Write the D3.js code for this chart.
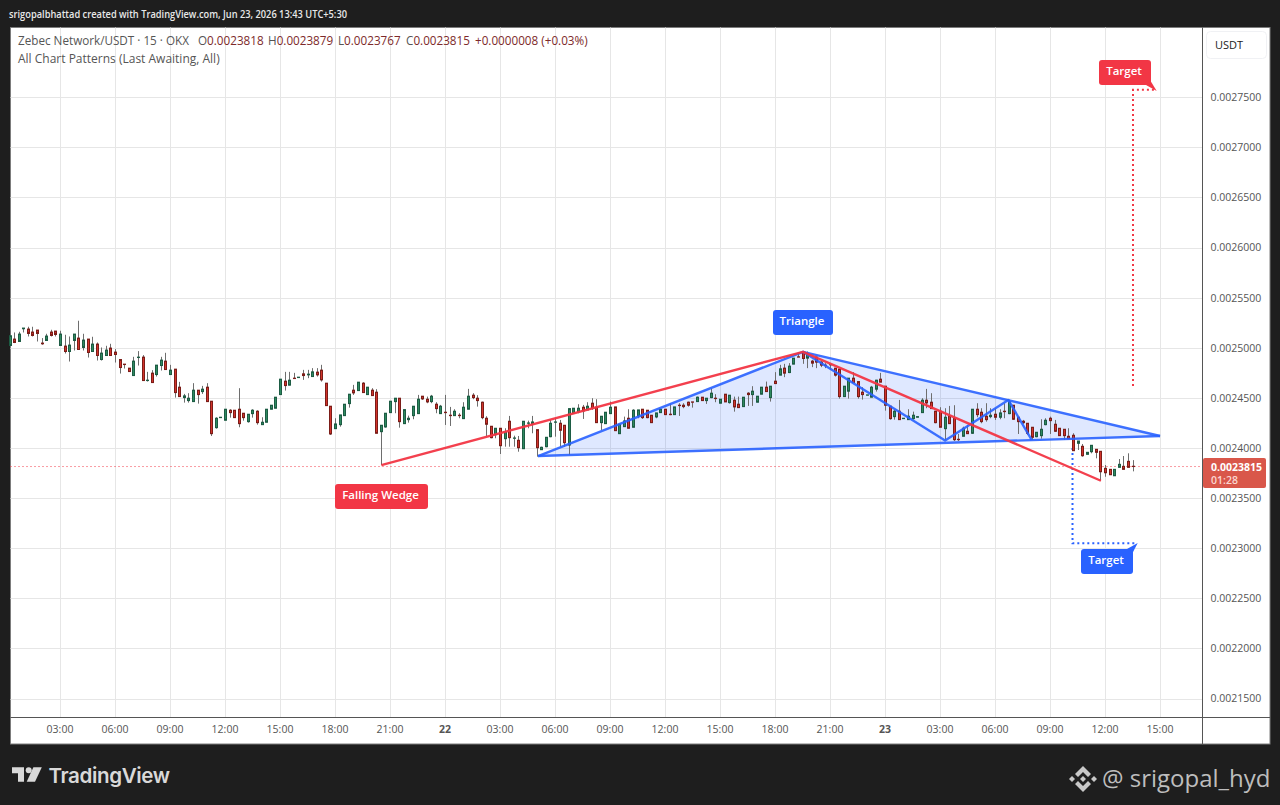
<!DOCTYPE html>
<html>
<head>
<meta charset="utf-8">
<script src="https://cdn.jsdelivr.net/npm/d3@7"></script>
<style>
  html, body { margin: 0; padding: 0; background: #1e1e1e; overflow: hidden; }
  svg { display: block; font-family: "Open Sans", sans-serif; }
</style>
</head>
<body>
<svg id="chart" width="1280" height="805"></svg>
<script>
// prices are in units of 0.0000001, one entry per 15 minute bar
var opens = [
  25023,25087,25063,25190,25187,25157,25177,25047,25073,25157,
  25167,25023,25017,24963,25073,25097,25003,25087,24963,25037,
  24883,24923,24997,24957,24883,24837,24797,24723,24903,24907,
  24673,24747,24733,24823,24867,24733,24787,24607,24503,24473,
  24463,24577,24563,24607,24467,24203,24303,24277,24377,24377,
  24387,24347,24263,24343,24367,24233,24257,24387,24397,24533,
  24667,24627,24697,24703,24740,24730,24713,24757,24777,24647,
  24417,24193,24233,24323,24443,24577,24573,24647,24533,24577,
  24557,24163,24210,24353,24463,24497,24243,24283,24323,24343,
  24517,24487,24463,24437,24343,24357,24327,24323,24327,24293,
  24387,24527,24497,24457,24297,24217,24133,24197,24093,24267,
  24097,24077,23993,24247,24240,24183,23983,24013,24113,24257,
  24247,24227,24030,24347,24360,24407,24380,24447,24407,24253,
  24243,24343,24410,24143,24213,24297,24207,24320,24387,24377,
  24327,24310,24353,24387,24337,24333,24427,24427,24457,24460,
  24463,24507,24473,24503,24497,24447,24537,24453,24477,24437,
  24413,24547,24533,24457,24537,24607,24503,24667,24727,24797,
  24753,24837,24910,24960,24897,24867,24907,24857,24827,24830,
  24797,24787,24513,24567,24697,24663,24557,24527,24507,24587,
  24687,24617,24417,24313,24367,24293,24283,24293,24307,24353,
  24477,24457,24367,24367,24193,24317,24297,24087,24117,24167,
  24147,24387,24357,24317,24313,24337,24307,24367,24343,24427,
  24307,24267,24247,24207,24113,24123,24233,24297,24237,24197,
  24187,24117,24127,24047,24017,23937,23963,23987,23967,23797,
  23787,23723,23807,23817,23867,23818
];
var highs = [
  25173,25153,25160,25197,25210,25210,25177,25097,25140,25180,
  25167,25170,25130,25113,25137,25270,25140,25087,25110,25053,
  25003,25020,25040,24987,24883,24837,24797,24910,24967,24927,
  24760,24777,24827,24910,24950,24830,24787,24660,24540,24547,
  24647,24577,24620,24647,24467,24307,24307,24387,24387,24377,
  24597,24347,24337,24387,24377,24307,24387,24427,24507,24687,
  24760,24760,24750,24707,24780,24780,24797,24797,24830,24647,
  24417,24297,24330,24437,24537,24630,24657,24657,24607,24597,
  24587,24227,24347,24467,24497,24497,24383,24323,24417,24530,
  24517,24513,24530,24457,24430,24530,24410,24387,24347,24457,
  24590,24547,24527,24463,24317,24217,24197,24197,24197,24320,
  24123,24120,24267,24273,24320,24183,24013,24107,24283,24300,
  24280,24227,24393,24397,24437,24430,24457,24497,24487,24317,
  24357,24463,24410,24237,24313,24387,24387,24380,24387,24377,
  24327,24350,24387,24387,24447,24410,24447,24447,24463,24460,
  24513,24507,24497,24597,24537,24487,24537,24527,24513,24513,
  24507,24557,24617,24517,24607,24663,24617,24757,24830,24840,
  24847,24897,24947,24960,24963,24880,24913,24867,24847,24833,
  24797,24787,24617,24697,24757,24663,24607,24530,24620,24680,
  24750,24617,24417,24380,24480,24297,24387,24363,24313,24497,
  24590,24547,24367,24407,24397,24420,24427,24140,24213,24230,
  24387,24447,24397,24447,24397,24397,24387,24447,24480,24427,
  24307,24280,24247,24207,24157,24287,24297,24313,24280,24197,
  24187,24197,24147,24070,24040,23957,24027,23987,23967,23830,
  23787,23787,23890,23920,23947,23879
];
var lows = [
  25023,25047,25063,25153,25113,25113,25063,25030,25073,25113,
  25113,25023,24943,24863,24973,24983,24973,24903,24963,24873,
  24873,24923,24923,24853,24743,24793,24763,24723,24823,24673,
  24663,24653,24713,24773,24783,24733,24503,24513,24453,24453,
  24463,24443,24540,24463,24120,24193,24303,24277,24303,24303,
  24207,24273,24253,24303,24233,24233,24257,24387,24397,24533,
  24573,24627,24693,24703,24680,24697,24713,24713,24663,24423,
  24130,24193,24213,24323,24403,24530,24573,24553,24533,24523,
  24147,23830,24203,24353,24347,24203,24243,24253,24287,24343,
  24480,24447,24447,24347,24340,24230,24220,24323,24297,24293,
  24387,24487,24413,24287,24120,24097,24097,23940,24013,24013,
  24013,23963,23993,24197,24147,23913,23980,24007,24107,24113,
  24013,24013,23930,24347,24347,24290,24380,24380,24253,24180,
  24243,24343,24173,24143,24213,24197,24207,24297,24290,24297,
  24253,24297,24353,24333,24327,24333,24320,24397,24413,24403,
  24463,24473,24440,24497,24457,24447,24460,24443,24363,24403,
  24413,24420,24420,24457,24537,24563,24463,24643,24727,24707,
  24747,24837,24907,24840,24797,24807,24797,24807,24797,24780,
  24713,24493,24513,24493,24653,24493,24483,24527,24507,24563,
  24657,24373,24283,24283,24283,24293,24283,24283,24307,24353,
  24397,24393,24247,24207,24080,24243,24070,24070,24117,24140,
  24140,24307,24247,24263,24297,24280,24287,24297,24337,24280,
  24140,24240,24130,24080,24107,24093,24227,24140,24160,24120,
  24080,24093,23973,23980,23913,23937,23947,23897,23673,23713,
  23730,23723,23807,23787,23807,23767
];
var closes = [
  25120,25053,25137,25197,25143,25123,25143,25040,25117,25123,
  25133,25137,24963,25027,25137,24983,25077,24953,25037,24923,
  24947,24977,24923,24933,24803,24833,24763,24867,24907,24673,
  24677,24653,24827,24877,24783,24777,24553,24513,24520,24497,
  24577,24533,24587,24463,24143,24297,24307,24387,24353,24303,
  24243,24303,24337,24377,24253,24257,24387,24427,24507,24687,
  24623,24677,24693,24707,24723,24737,24760,24730,24680,24423,
  24140,24240,24330,24437,24537,24550,24657,24553,24607,24523,
  24147,24227,24347,24467,24497,24263,24383,24297,24417,24487,
  24490,24460,24517,24393,24417,24353,24323,24367,24323,24407,
  24517,24503,24473,24303,24237,24103,24197,24023,24157,24103,
  24100,24003,24267,24250,24260,24003,24007,24107,24247,24260,
  24177,24053,24393,24397,24397,24370,24417,24400,24253,24317,
  24357,24407,24173,24237,24270,24197,24377,24380,24303,24303,
  24253,24350,24387,24333,24333,24410,24423,24413,24427,24457,
  24507,24473,24497,24547,24493,24487,24460,24527,24410,24403,
  24507,24533,24567,24517,24607,24563,24617,24643,24790,24747,
  24817,24897,24907,24893,24937,24847,24857,24827,24823,24833,
  24727,24513,24617,24697,24653,24513,24533,24530,24607,24677,
  24657,24427,24293,24367,24283,24297,24317,24327,24313,24477,
  24450,24393,24253,24207,24307,24243,24083,24083,24197,24143,
  24387,24333,24263,24283,24327,24307,24350,24363,24457,24287,
  24263,24253,24147,24107,24157,24187,24277,24273,24167,24123,
  24123,24093,23973,24070,23923,23957,24027,23957,23763,23753,
  23733,23787,23837,23787,23807,23815
];

var priceTicks = [0.00275, 0.0027, 0.00265, 0.0026, 0.00255, 0.0025, 0.00245, 0.0024,
  0.00235, 0.0023, 0.00225, 0.0022, 0.00215];
var timeLabels = ['03:00', '06:00', '09:00', '12:00', '15:00', '18:00', '21:00', '22',
  '03:00', '06:00', '09:00', '12:00', '15:00', '18:00', '21:00', '23',
  '03:00', '06:00', '09:00', '12:00', '15:00'];
var firstTimeBar = 11; // 03:00 is the twelfth bar on screen
var barsPerLabel = 12;

// pattern legs as [bar, price in the same units]
var wedgeLine = [[81, 23830], [173, 24960], [238, 23673]];
var triangleFill = [[115.2, 23920], [173, 24960], [250.9, 24120]];
var triangleZigzag = [[115.2, 23920], [173, 24960], [204, 24075], [217.8, 24480], [222.9, 24080]];
var triangleUpper = [[173, 24960], [250.9, 24120]];
var triangleLower = [[115.2, 23920], [250.9, 24120]];
var redTarget = [[245, 24620], [245, 27575], [250.2, 27575]];
var blueTarget = [[231.8, 24000], [231.8, 23050], [245.9, 23050]];
var lastClose = closes[closes.length - 1];

var red = '#f23645', blue = '#2962ff';
var upFill = '#2f8a60', upEdge = '#1d5c44', downFill = '#d2332b', downEdge = '#7b1d18', wickColor = '#6e6e6e';

var plot = { left: 10.5, right: 1202.5, top: 27.5, bottom: 717.5, edge: 1270, foot: 744 };

var x = d3.scaleLinear().domain([firstTimeBar, firstTimeBar + barsPerLabel * 20]).range([60.5, 1160.5]);
var yPrice = d3.scaleLinear().domain([0.00275, 0.00215]).range([97.3, 698.5]);
var y = function(v) { return yPrice(v * 1e-7); };

var svg = d3.select('#chart');

svg.append('rect').attr('width', 1280).attr('height', 805).attr('fill', '#1e1e1e');

svg.append('text').attr('x', 9).attr('y', 18).attr('fill', '#e8e8e8')
  .attr('font-size', 10.5).attr('font-weight', 600)
  .attr('textLength', 338).attr('lengthAdjust', 'spacingAndGlyphs')
  .text('srigopalbhattad created with TradingView.com, Jun 23, 2026 13:43 UTC+5:30');

svg.append('rect')
  .attr('x', plot.left).attr('y', plot.top)
  .attr('width', plot.edge - plot.left).attr('height', plot.foot - plot.top)
  .attr('fill', '#fff').attr('stroke', '#7c7c7c');

var timeValues = timeLabels.map(function(d, i) { return firstTimeBar + i * barsPerLabel; });

// grid
var grid = svg.append('g').attr('stroke', '#e6e6e6').attr('stroke-width', 1);
grid.selectAll('.gv').data(timeValues).enter().append('line')
  .attr('x1', function(d) { return x(d); }).attr('x2', function(d) { return x(d); })
  .attr('y1', plot.top).attr('y2', plot.bottom);
grid.selectAll('.gh').data(priceTicks).enter().append('line')
  .attr('x1', plot.left).attr('x2', plot.right)
  .attr('y1', function(d) { return Math.round(yPrice(d)) + 0.5; })
  .attr('y2', function(d) { return Math.round(yPrice(d)) + 0.5; });

// axes
var priceAxis = svg.append('g')
  .attr('transform', 'translate(' + plot.right + ',0)')
  .call(d3.axisRight(yPrice).tickValues(priceTicks).tickSize(0).tickPadding(8).tickFormat(d3.format('.7f')));
priceAxis.select('.domain').remove();
priceAxis.selectAll('text').attr('fill', '#555').attr('font-size', 10.5)
  .attr('font-family', '"Open Sans", sans-serif');

var timeAxis = svg.append('g')
  .attr('transform', 'translate(-0.5,' + plot.bottom + ')')
  .call(d3.axisBottom(x).tickValues(timeValues).tickSize(0).tickPadding(8).offset(0)
    .tickFormat(function(d, i) { return timeLabels[i]; }));
timeAxis.select('.domain').remove();
timeAxis.selectAll('text').attr('fill', '#555').attr('font-size', 10.5)
  .attr('font-family', '"Open Sans", sans-serif')
  .attr('font-weight', function(d, i) { return timeLabels[i].length === 2 ? 700 : 400; });

svg.append('line').attr('x1', plot.left).attr('x2', plot.edge)
  .attr('y1', plot.bottom).attr('y2', plot.bottom).attr('stroke', '#555');
svg.append('line').attr('x1', plot.right).attr('x2', plot.right)
  .attr('y1', plot.top).attr('y2', plot.foot).attr('stroke', '#555');

// last price line
svg.append('line')
  .attr('x1', plot.left).attr('x2', plot.right)
  .attr('y1', y(lastClose)).attr('y2', y(lastClose))
  .attr('stroke', red).attr('stroke-dasharray', '1 3');

var line = d3.line().x(function(d) { return x(d[0]); }).y(function(d) { return y(d[1]); });

// triangle fill and dotted target legs go under the bars
svg.append('path').attr('d', line(triangleFill) + 'Z').attr('fill', blue).attr('fill-opacity', 0.15);
svg.append('path').attr('d', line(blueTarget)).attr('fill', 'none')
  .attr('stroke', blue).attr('stroke-width', 2).attr('stroke-dasharray', '2 3');
svg.append('path').attr('d', line(redTarget)).attr('fill', 'none')
  .attr('stroke', red).attr('stroke-width', 2).attr('stroke-dasharray', '2 3');

// candles
var bars = d3.range(opens.length);
var snap = function(i) { return Math.round(x(i) - 0.5) + 0.5; };
svg.append('g').selectAll('line').data(bars).enter().append('line')
  .attr('x1', snap).attr('x2', snap)
  .attr('y1', function(i) { return y(highs[i]); })
  .attr('y2', function(i) { return y(lows[i]); })
  .attr('stroke', wickColor);
svg.append('g').selectAll('rect').data(bars).enter().append('rect')
  .attr('x', function(i) { return snap(i) - 1; })
  .attr('width', 2)
  .attr('y', function(i) { return y(Math.max(opens[i], closes[i])); })
  .attr('height', function(i) { return Math.abs(y(opens[i]) - y(closes[i])); })
  .attr('fill', function(i) { return closes[i] >= opens[i] ? upFill : downFill; })
  .attr('stroke', function(i) { return closes[i] >= opens[i] ? upEdge : downEdge; });

// pattern lines
[triangleUpper, triangleLower, triangleZigzag].forEach(function(d) {
  svg.append('path').attr('d', line(d)).attr('fill', 'none')
    .attr('stroke', blue).attr('stroke-width', 2.4).attr('stroke-opacity', 0.9).attr('stroke-linejoin', 'round');
});
svg.append('path').attr('d', line(wedgeLine)).attr('fill', 'none')
  .attr('stroke', red).attr('stroke-width', 2.4).attr('stroke-opacity', 0.95).attr('stroke-linejoin', 'round');

// labels
function tag(text, color, left, right, top, bottom, tail) {
  if (tail) svg.append('path').attr('d', 'M' + tail.join('L') + 'Z').attr('fill', color);
  svg.append('rect').attr('x', left).attr('y', top)
    .attr('width', right - left).attr('height', bottom - top).attr('rx', 3).attr('fill', color);
  svg.append('text').attr('x', (left + right) / 2 - 1).attr('y', (top + bottom) / 2 + 2.5)
    .attr('text-anchor', 'middle').attr('fill', '#fff')
    .attr('font-size', 11.5).attr('font-weight', 600).text(text);
}
tag('Falling Wedge', red, 335, 428, 484, 509);
tag('Triangle', blue, 773, 833, 310, 335);
tag('Target', red, 1099, 1151, 60, 85, [[1150, 80], [1156.7, 91], [1146, 85]]);
tag('Target', blue, 1081, 1133, 549, 574, [[1132, 554], [1137.7, 543], [1127, 549]]);

// legend
var legendTop = svg.append('text').attr('y', 45).attr('font-size', 11.7).attr('fill', '#555');
legendTop.append('tspan').attr('x', 18).text('Zebec Network/USDT \u00b7 15 \u00b7 OKX');
[['O', '0.0023818', 198], ['H', '0.0023879', 268], ['L', '0.0023767', 338], ['C', '0.0023815', 406]].forEach(function(d) {
  legendTop.append('tspan').attr('x', d[2]).text(d[0]);
  legendTop.append('tspan').attr('fill', '#7d2a2a').text(d[1]);
});
legendTop.append('tspan').attr('x', 475).attr('fill', '#7d2a2a').text('+0.0000008 (+0.03%)');
svg.append('text').attr('x', 18).attr('y', 63).attr('font-size', 12).attr('fill', '#555')
  .text('All Chart Patterns (Last Awaiting, All)');

// USDT box and last price tag
svg.append('rect').attr('x', 1206.5).attr('y', 31.5).attr('width', 60).attr('height', 27).attr('rx', 4)
  .attr('fill', '#fff').attr('stroke', '#f0f1f4');
svg.append('text').attr('x', 1215).attr('y', 49).attr('font-size', 11).attr('fill', '#222').text('USDT');
svg.append('rect').attr('x', 1203).attr('y', 458).attr('width', 63).attr('height', 30).attr('rx', 2).attr('fill', '#d9574a');
svg.append('text').attr('x', 1211).attr('y', 471).attr('font-size', 10.5).attr('font-weight', 700).attr('fill', '#fff')
  .text(d3.format('.7f')(lastClose * 1e-7));
svg.append('text').attr('x', 1211).attr('y', 484).attr('font-size', 10.5).attr('font-weight', 600).attr('fill', '#fbd7d2')
  .text('01:28');

// footer, TradingView mark
var mark = svg.append('g').attr('fill', '#d9d9d9');
mark.append('path').attr('d', 'M12 767.3H24V781.7H18V773.3H12Z');
mark.append('circle').attr('cx', 28.7).attr('cy', 770.2).attr('r', 3);
mark.append('path').attr('d', 'M33.4 767.3H41.8L35 781.7H26.7Z');
svg.append('text').attr('x', 48.5).attr('y', 782.5).attr('font-size', 20.6).attr('font-weight', 600)
  .attr('fill', '#d9d9d9').attr('font-family', 'Inter, sans-serif').attr('letter-spacing', -0.4).text('TradingView');

// footer, Binance mark and handle
var bn = svg.append('g').attr('fill', '#c8c8c8').attr('transform', 'translate(1083,779)');
bn.append('path').attr('d', 'M0 -13L8 -5L5 -2L0 -7L-5 -2L-8 -5Z');
bn.append('path').attr('d', 'M0 13L8 5L5 2L0 7L-5 2L-8 5Z');
bn.append('path').attr('d', 'M0 -3L3 0L0 3L-3 0Z');
bn.append('path').attr('d', 'M-11 -3L-8 0L-11 3L-14 0Z');
bn.append('path').attr('d', 'M11 -3L14 0L11 3L8 0Z');
svg.append('text').attr('x', 1102).attr('y', 787).attr('font-size', 24)
  .attr('fill', '#bdbdbd').text('@ srigopal_hyd');
</script>
</body>
</html>
